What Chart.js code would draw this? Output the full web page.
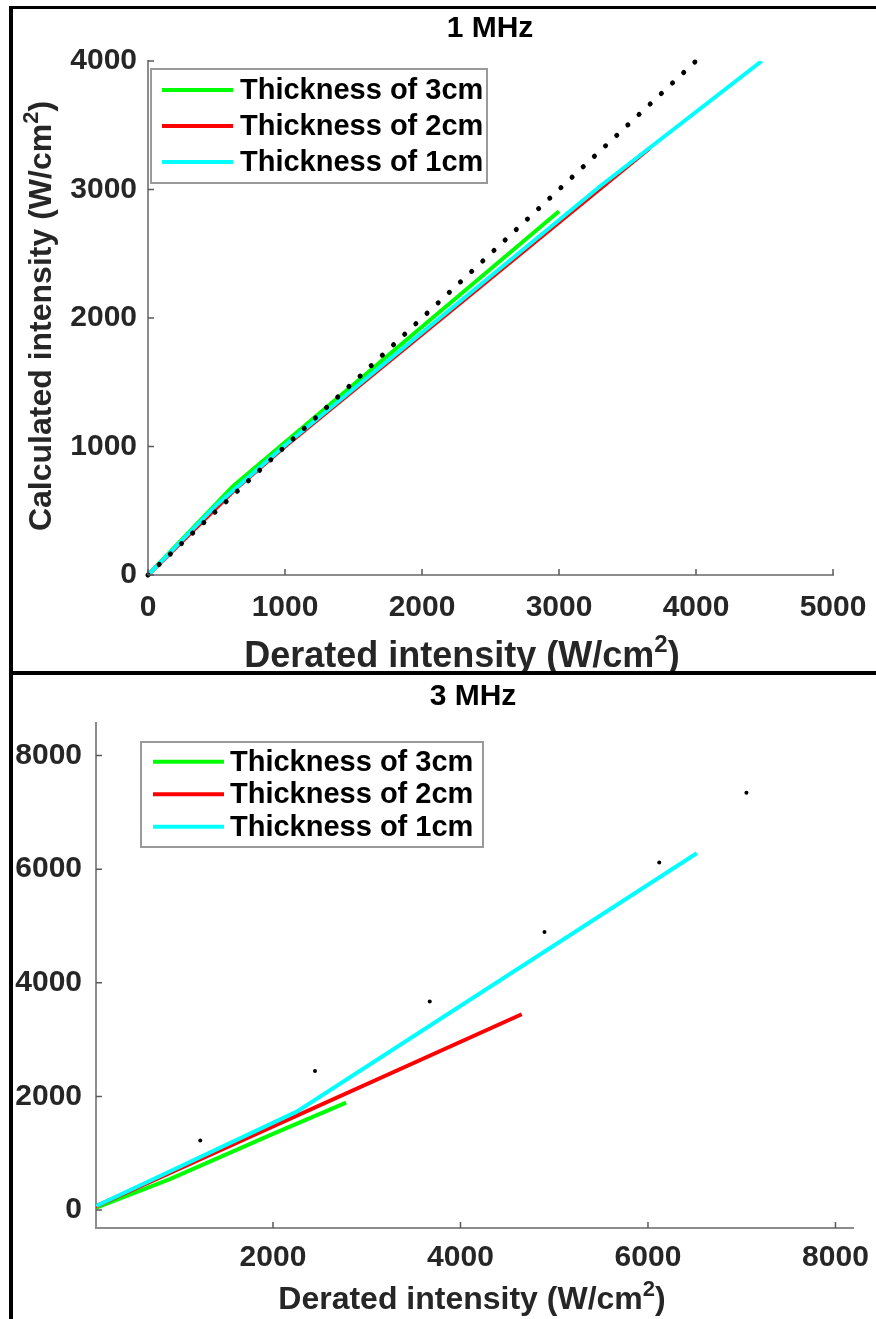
<!DOCTYPE html>
<html>
<head>
<meta charset="utf-8">
<script src="https://cdn.jsdelivr.net/npm/chart.js@4.4.0/dist/chart.umd.min.js"></script>
<style>
  html, body { margin: 0; padding: 0; background: #fff; }
  #wrap { position: relative; width: 876px; height: 1319px; overflow: hidden; }
  canvas { position: absolute; left: 0; }
  #c1 { top: 0; }
  #c2 { top: 672px; }
  .bar { position: absolute; background: #000; }
</style>
</head>
<body>
<div id="wrap">
  <canvas id="c1" width="876" height="672"></canvas>
  <canvas id="c2" width="876" height="647"></canvas>
  <div class="bar" style="left:9px;top:6px;width:4px;height:1313px"></div>
  <div class="bar" style="left:9px;top:6px;width:867px;height:3px"></div>
  <div class="bar" style="left:9px;top:671px;width:867px;height:4px"></div>
</div>
<script>
const seriesNames = ["Thickness of 3cm", "Thickness of 2cm", "Thickness of 1cm"];
const seriesColors = ["#00ff00", "#ff0000", "#00ffff"];
const xLabelParts = ["Derated intensity (W/cm", "2", ")"];
const yLabelParts = ["Calculated intensity (W/cm", "2", ")"];

// 1 MHz panel
const top3cmX = [0, 620, 3000];
const top3cmY = [0, 690, 2830];
const top2cmX = [0, 650, 1000, 3660];
const top2cmY = [0, 680, 1000, 3320];
const top1cmX = [0, 500, 1000, 3300, 4480];
const top1cmY = [0, 545, 1010, 3025, 4000];
const topRefX = [0, 4000];
const topRefY = [0, 4000];
const topXTicks = [0, 1000, 2000, 3000, 4000, 5000];
const topYTicks = [0, 1000, 2000, 3000, 4000];

// 3 MHz panel
const bot3cmX = [110, 900, 2000, 2780];
const bot3cmY = [35, 545, 1340, 1890];
const bot2cmX = [90, 4653];
const bot2cmY = [50, 3446];
const bot1cmX = [115, 2253, 6520];
const bot1cmY = [70, 1731, 6280];
const botRefX = [1224, 2448, 3672, 4896, 6120, 7050];
const botRefY = [1224, 2448, 3672, 4896, 6120, 7344];
const botXTicks = [2000, 4000, 6000, 8000];
const botYTicks = [0, 2000, 4000, 6000, 8000];

const FONT = "'Liberation Sans', Arial, Helvetica, sans-serif";
const pts = (xs, ys) => xs.map((x, i) => ({ x: x, y: ys[i] }));

function lineSet(i, xs, ys, order) {
  return {
    label: seriesNames[i],
    data: pts(xs, ys),
    showLine: true,
    borderColor: seriesColors[i],
    backgroundColor: seriesColors[i],
    borderWidth: 4,
    pointRadius: 0,
    order: order
  };
}

function supText(ctx, parts, cx, by, size, color) {
  const big = "bold " + size + "px " + FONT;
  const small = "bold " + Math.round(size * 0.68) + "px " + FONT;
  ctx.font = big;
  const w0 = ctx.measureText(parts[0]).width;
  const w2 = ctx.measureText(parts[2]).width;
  ctx.font = small;
  const w1 = ctx.measureText(parts[1]).width;
  let sx = cx - (w0 + w1 + w2) / 2;
  ctx.fillStyle = color;
  ctx.textAlign = "left";
  ctx.textBaseline = "alphabetic";
  ctx.font = big;
  ctx.fillText(parts[0], sx, by);
  sx += w0;
  ctx.font = small;
  ctx.fillText(parts[1], sx, by - size * 0.42);
  sx += w1;
  ctx.font = big;
  ctx.fillText(parts[2], sx, by);
}

const decor = {
  id: "decor",
  afterDraw(chart, args, o) {
    const { ctx, chartArea: a, scales: { x, y } } = chart;
    ctx.save();
    // ticks pointing into the plot
    ctx.strokeStyle = "#5a5a5a";
    ctx.lineWidth = 1.5;
    ctx.beginPath();
    x.ticks.forEach(t => {
      const px = x.getPixelForValue(t.value);
      ctx.moveTo(px, a.bottom);
      ctx.lineTo(px, a.bottom - 6);
    });
    y.ticks.forEach(t => {
      const py = y.getPixelForValue(t.value);
      ctx.moveTo(a.left, py);
      ctx.lineTo(a.left + 6, py);
    });
    ctx.stroke();

    ctx.fillStyle = "#000";
    ctx.font = "bold " + o.titleSize + "px " + FONT;
    ctx.textAlign = "center";
    ctx.textBaseline = "alphabetic";
    ctx.fillText(o.title, o.titleX, o.titleY);

    supText(ctx, xLabelParts, o.xLabelX, o.xLabelY, o.xLabelSize, "#262626");
    if (o.yLabelX) {
      ctx.save();
      ctx.translate(o.yLabelX, o.yLabelY);
      ctx.rotate(-Math.PI / 2);
      supText(ctx, yLabelParts, 0, 0, o.yLabelSize, "#262626");
      ctx.restore();
    }

    // legend
    const L = o.legend;
    ctx.fillStyle = "#fff";
    ctx.fillRect(L.x, L.y, L.w, L.h);
    ctx.strokeStyle = "#9a9a9a";
    ctx.lineWidth = 2;
    ctx.strokeRect(L.x, L.y, L.w, L.h);
    seriesNames.forEach((name, i) => {
      const ry = L.rowY + i * L.rowGap;
      ctx.strokeStyle = seriesColors[i];
      ctx.lineWidth = 4;
      ctx.beginPath();
      ctx.moveTo(L.x0, ry);
      ctx.lineTo(L.x1, ry);
      ctx.stroke();
      ctx.fillStyle = "#000";
      ctx.font = "bold " + L.size + "px " + FONT;
      ctx.textAlign = "left";
      ctx.textBaseline = "middle";
      ctx.fillText(name, L.textX, ry + 1);
    });
    ctx.restore();
  }
};

function axis(min, max, ticks, pad, size, horizontal) {
  return {
    type: "linear",
    min: min,
    max: max,
    afterBuildTicks: s => { s.ticks = ticks.map(v => ({ value: v })); },
    afterFit: s => {
      if (horizontal) s.height = size; else s.width = size;
      s.paddingLeft = 0; s.paddingRight = 0; s.paddingTop = 0; s.paddingBottom = 0;
    },
    grid: { display: false, drawTicks: false },
    border: { display: true, color: "#8c8c8c", width: 2 },
    ticks: {
      color: "#262626",
      font: { family: FONT, size: 30, weight: "bold" },
      padding: pad,
      maxRotation: 0,
      autoSkip: false,
      callback: v => String(v)
    }
  };
}

function panel(id, p) {
  return new Chart(document.getElementById(id), {
    type: "scatter",
    data: { datasets: p.datasets },
    options: {
      responsive: false,
      animation: false,
      events: [],
      layout: { padding: p.pad },
      plugins: { legend: { display: false }, tooltip: { enabled: false }, decor: p.decor },
      scales: {
        x: axis(p.xMin, p.xMax, p.xTicks, p.xPad, p.xH, true),
        y: axis(p.yMin, p.yMax, p.yTicks, p.yPad, p.yW, false)
      }
    },
    plugins: [decor]
  });
}

panel("c1", {
  datasets: [
    lineSet(0, top3cmX, top3cmY, 3),
    lineSet(1, top2cmX, top2cmY, 2),
    lineSet(2, top1cmX, top1cmY, 1),
    {
      label: "y = x",
      data: pts(topRefX, topRefY),
      showLine: true,
      borderColor: "#000",
      borderWidth: 5,
      borderDash: [0.1, 15.2],
      borderCapStyle: "round",
      pointRadius: 0,
      clip: false,
      order: 0
    }
  ],
  pad: { top: 61, right: 43, left: 0, bottom: 0 },
  xMin: 0, xMax: 5000, xTicks: topXTicks, xPad: 15, xH: 97,
  yMin: 0, yMax: 4000, yTicks: topYTicks, yPad: 11, yW: 148,
  decor: {
    title: "1 MHz", titleX: 490, titleY: 37, titleSize: 30,
    xLabelX: 462, xLabelY: 667, xLabelSize: 36,
    yLabelX: 51, yLabelY: 316, yLabelSize: 32,
    legend: { x: 151, y: 69, w: 336, h: 114, x0: 162, x1: 233, textX: 240, rowY: 90, rowGap: 36, size: 29 }
  }
});

panel("c2", {
  datasets: [
    lineSet(0, bot3cmX, bot3cmY, 3),
    lineSet(1, bot2cmX, bot2cmY, 2),
    lineSet(2, bot1cmX, bot1cmY, 1),
    {
      label: "y = x",
      data: pts(botRefX, botRefY),
      showLine: false,
      backgroundColor: "#000",
      borderColor: "#000",
      pointRadius: 2,
      pointBorderWidth: 0,
      order: 0
    }
  ],
  pad: { top: 51, right: 23, left: 0, bottom: 0 },
  xMin: 112, xMax: 8187, xTicks: botXTicks, xPad: 12, xH: 91,
  yMin: -317, yMax: 8574, yTicks: botYTicks, yPad: 14, yW: 96,
  decor: {
    title: "3 MHz", titleX: 473, titleY: 33, titleSize: 30,
    xLabelX: 472, xLabelY: 637, xLabelSize: 32,
    legend: { x: 141, y: 70, w: 342, h: 105, x0: 153, x1: 224, textX: 230, rowY: 89.7, rowGap: 32.5, size: 29 }
  }
});
</script>
</body>
</html>
